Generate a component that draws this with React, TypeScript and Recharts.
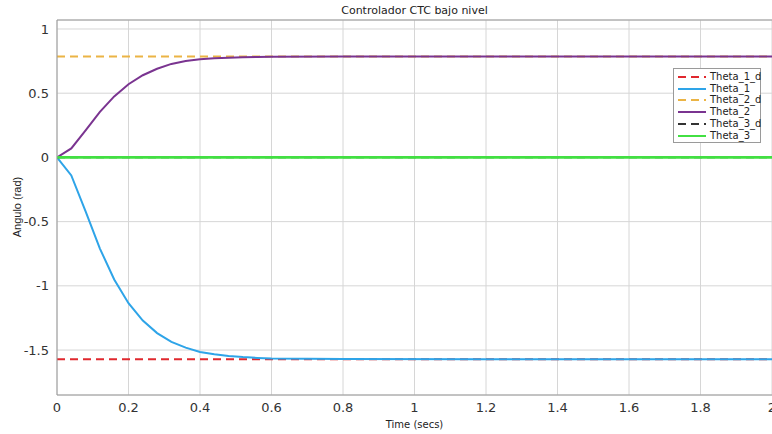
import * as React from "react";
import { LineChart, Line, XAxis, YAxis, CartesianGrid, ReferenceLine } from "recharts";

/* ---------- data ---------- */
const time = [0, 0.04, 0.08, 0.12, 0.16, 0.2, 0.24, 0.28, 0.32, 0.36, 0.4, 0.44, 0.48, 0.52, 0.56, 0.6, 0.8, 1.2, 1.6, 2];
const theta1 = [0, -0.14, -0.42, -0.71, -0.95, -1.135, -1.27, -1.368, -1.436, -1.481, -1.515, -1.533, -1.546, -1.555, -1.561, -1.565, -1.57, -1.5708, -1.5708, -1.5708];
const theta2 = [0, 0.07, 0.21, 0.355, 0.475, 0.57, 0.64, 0.69, 0.728, 0.75, 0.765, 0.772, 0.777, 0.78, 0.782, 0.784, 0.785, 0.785, 0.785, 0.785];
const theta3 = [0, 0, 0, 0, 0, 0, 0, 0, 0, 0, 0, 0, 0, 0, 0, 0, 0, 0, 0, 0];

const refTime = [0, 2];
const theta1d = [-1.5708, -1.5708];
const theta2d = [0.7854, 0.7854];
const theta3d = [0, 0];

const xTicks = [0, 0.2, 0.4, 0.6, 0.8, 1, 1.2, 1.4, 1.6, 1.8, 2];
const yTicks = [-1.5, -1, -0.5, 0, 0.5, 1];
const yDomain: [number, number] = [-1.85, 1.07];

/* ---------- visuals ---------- */
const tickStyle = { fontSize: 13, fill: "#333", fontFamily: "DejaVu Sans" };
const gridStroke = "#d6d6d6";
const boxStroke = "#9a9a9a";
const dash = "8 5";

const series = [
  { name: "Theta_1_d", color: "#e0282e", dashed: true },
  { name: "Theta_1", color: "#2ea4e8", dashed: false },
  { name: "Theta_2_d", color: "#ebb445", dashed: true },
  { name: "Theta_2", color: "#7a3490", dashed: false },
  { name: "Theta_3_d", color: "#333333", dashed: true },
  { name: "Theta_3", color: "#42e042", dashed: false },
];

const table = time.map((t, i) => ({ t, theta1: theta1[i], theta2: theta2[i], theta3: theta3[i] }));
const refTable = (vals: number[]) => refTime.map((t, i) => ({ t, v: vals[i] }));

function ScopeLegend() {
  return (
    <div
      style={{
        position: "absolute",
        left: 673,
        top: 68,
        width: 86,
        height: 73,
        border: `1px solid ${boxStroke}`,
        background: "#fff",
        fontFamily: "DejaVu Sans",
        fontSize: 10,
        color: "#222",
      }}
    >
      {series.map((s, i) => (
        <div key={s.name} style={{ position: "absolute", left: 3, top: 2 + i * 11.7, height: 12, display: "flex", alignItems: "center" }}>
          <svg width={30} height={12}>
            <line x1={1} y1={6} x2={29} y2={6} stroke={s.color} strokeWidth={2} strokeDasharray={s.dashed ? dash : undefined} />
          </svg>
          <span style={{ marginLeft: 3, lineHeight: "12px" }}>{s.name}</span>
        </div>
      ))}
    </div>
  );
}

export default function App() {
  return (
    <div style={{ position: "absolute", left: 0, top: 0, width: 772, height: 434, background: "#fff", overflow: "hidden" }}>
      <LineChart width={772} height={434} data={table} margin={{ top: 20, right: 0, bottom: 0, left: 0 }}>
        <CartesianGrid stroke={gridStroke} vertical horizontal />
        <XAxis
          dataKey="t"
          type="number"
          domain={[0, 2]}
          ticks={xTicks}
          interval={0}
          tick={tickStyle}
          tickLine={false}
          height={39}
          stroke={boxStroke}
          allowDataOverflow
        />
        <YAxis
          type="number"
          domain={yDomain}
          ticks={yTicks}
          interval={0}
          tick={tickStyle}
          tickLine={false}
          width={57}
          stroke={boxStroke}
          allowDataOverflow
        />
        <ReferenceLine y={yDomain[1]} stroke={boxStroke} />
        <Line data={refTable(theta1d)} dataKey="v" type="linear" stroke={series[0].color} strokeWidth={2} strokeDasharray={dash} dot={false} isAnimationActive={false} />
        <Line dataKey="theta1" type="linear" stroke={series[1].color} strokeWidth={2} dot={false} isAnimationActive={false} />
        <Line data={refTable(theta2d)} dataKey="v" type="linear" stroke={series[2].color} strokeWidth={2} strokeDasharray={dash} dot={false} isAnimationActive={false} />
        <Line dataKey="theta2" type="linear" stroke={series[3].color} strokeWidth={2} dot={false} isAnimationActive={false} />
        <Line data={refTable(theta3d)} dataKey="v" type="linear" stroke={series[4].color} strokeWidth={1.5} strokeDasharray={dash} dot={false} isAnimationActive={false} />
        <Line dataKey="theta3" type="linear" stroke={series[5].color} strokeWidth={2.6} dot={false} isAnimationActive={false} />
      </LineChart>

      {/* title + axis labels */}
      <div style={{ position: "absolute", left: 57, width: 715, top: 4, textAlign: "center", fontFamily: "DejaVu Sans", fontSize: 11, color: "#222" }}>
        Controlador CTC bajo nivel
      </div>
      <div style={{ position: "absolute", left: 57, width: 715, top: 419, textAlign: "center", fontFamily: "DejaVu Sans", fontSize: 10, color: "#222" }}>
        Time (secs)
      </div>
      <div
        style={{
          position: "absolute",
          left: 17,
          top: 207,
          transform: "translate(-50%, -50%) rotate(-90deg)",
          whiteSpace: "nowrap",
          fontFamily: "Liberation Sans",
          fontSize: 11,
          color: "#222",
        }}
      >
        Angulo (rad)
      </div>
      <ScopeLegend />
    </div>
  );
}
